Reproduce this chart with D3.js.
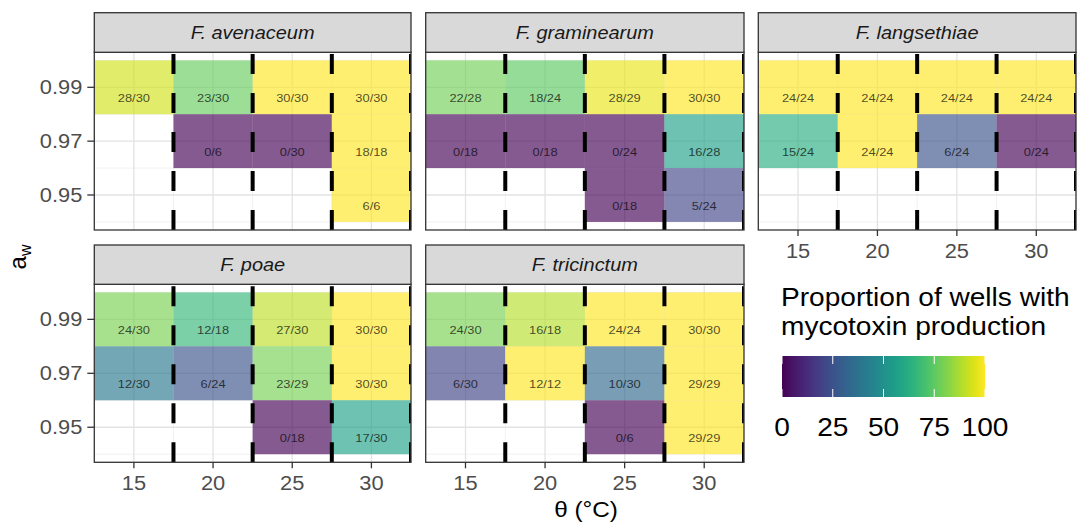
<!DOCTYPE html>
<html><head><meta charset="utf-8">
<script src="https://cdn.jsdelivr.net/npm/d3@7"></script>
<style>
body{margin:0;background:#fff}
svg{display:block}
text{font-family:"Liberation Sans",Arial,Helvetica,sans-serif}
</style>
</head><body>
<svg id="chart" width="1081" height="524"></svg>
<script>
// ---------------- data ----------------
const speciesNames = ["F. avenaceum","F. graminearum","F. langsethiae","F. poae","F. tricinctum"];
const temperatures = [15, 20, 25, 30];
const waterActivity = [0.99, 0.97, 0.95];
// wells with mycotoxin production; rows = aw (0.99, 0.97, 0.95), columns = temperature; null = not tested
const wellsPositive = [
  [[28, 23, 30, 30], [null, 0, 0, 18], [null, null, null, 6]],
  [[22, 18, 28, 30], [0, 0, 0, 16], [null, null, 0, 5]],
  [[24, 24, 24, 24], [15, 24, 6, 0], [null, null, null, null]],
  [[24, 12, 27, 30], [12, 6, 23, 30], [null, null, 0, 17]],
  [[24, 16, 24, 30], [6, 12, 10, 29], [null, null, 0, 29]]
];
const wellsTotal = [
  [[30, 30, 30, 30], [null, 6, 30, 18], [null, null, null, 6]],
  [[28, 24, 29, 30], [18, 18, 24, 28], [null, null, 18, 24]],
  [[24, 24, 24, 24], [24, 24, 24, 24], [null, null, null, null]],
  [[30, 18, 30, 30], [30, 24, 29, 30], [null, null, 18, 30]],
  [[30, 18, 24, 30], [30, 12, 30, 29], [null, null, 6, 29]]
];
const xTicks = [15, 20, 25, 30];
const yTicks = [0.95, 0.97, 0.99];
const yMinor = [0.94, 0.96, 0.98, 1.00];
const xMinor = [12.5, 17.5, 22.5, 27.5, 32.5];
const dividers = [17.5, 22.5, 27.5, 32.5];
const legendBreaks = [0, 25, 50, 75, 100];
const xDomain = [12.5, 32.5];
const yDomain = [0.937, 1.003];

// ---------------- layout ----------------
const SX = 1.12; // horizontal text stretch of the reference
const cols = [[94.3, 411], [425.7, 744], [758.3, 1076]];
const rows = [{stripTop: 12.7, top: 52.3, bottom: 230}, {stripTop: 245, top: 284.3, bottom: 462.3}];
const svg = d3.select("#chart");
const defs = svg.append("defs");
const color = d3.scaleSequential(d3.interpolateViridis).domain([0, 100]);

function txt(g, x, y, s, opts) {
  const t = g.append("text")
    .attr("transform", `translate(${x},${y}) scale(${opts.sx || SX},1)`)
    .attr("text-anchor", opts.anchor || "middle")
    .attr("font-size", opts.size)
    .attr("fill", opts.fill || "#000")
    .text(s);
  if (opts.italic) t.attr("font-style", "italic");
  if (opts.opacity != null) t.attr("fill-opacity", opts.opacity);
  if (opts.baseline) t.attr("dominant-baseline", opts.baseline);
  return t;
}

speciesNames.forEach((name, i) => {
  const r = rows[Math.floor(i / 3)], c = cols[i % 3];
  const x = d3.scaleLinear().domain(xDomain).range(c);
  const y = d3.scaleLinear().domain(yDomain).range([r.bottom, r.top]);
  const g = svg.append("g");
  const clipId = "clip" + i;
  defs.append("clipPath").attr("id", clipId).append("rect")
    .attr("x", c[0]).attr("y", r.top).attr("width", c[1] - c[0]).attr("height", r.bottom - r.top);

  const pg = g.append("g").attr("clip-path", `url(#${clipId})`);
  // grid
  pg.selectAll(".xm").data(xMinor).join("line")
    .attr("x1", d => x(d)).attr("x2", d => x(d)).attr("y1", r.top).attr("y2", r.bottom)
    .attr("stroke", "#ebebeb").attr("stroke-width", 0.7);
  pg.selectAll(".ym").data(yMinor).join("line")
    .attr("y1", d => y(d)).attr("y2", d => y(d)).attr("x1", c[0]).attr("x2", c[1])
    .attr("stroke", "#ebebeb").attr("stroke-width", 0.7);
  pg.selectAll(".xg").data(xTicks).join("line")
    .attr("x1", d => x(d)).attr("x2", d => x(d)).attr("y1", r.top).attr("y2", r.bottom)
    .attr("stroke", "#e3e3e3").attr("stroke-width", 1.3);
  pg.selectAll(".yg").data(yTicks).join("line")
    .attr("y1", d => y(d)).attr("y2", d => y(d)).attr("x1", c[0]).attr("x2", c[1])
    .attr("stroke", "#e3e3e3").attr("stroke-width", 1.3);

  // cells
  const cells = [];
  waterActivity.forEach((aw, ri) => temperatures.forEach((t, ci) => {
    const tot = wellsTotal[i][ri][ci];
    if (tot != null) cells.push({aw, t, pos: wellsPositive[i][ri][ci], tot});
  }));
  pg.selectAll(".tile").data(cells).join("rect")
    .attr("x", d => x(d.t - 2.5)).attr("width", d => x(d.t + 2.5) - x(d.t - 2.5))
    .attr("y", d => y(d.aw + 0.01)).attr("height", d => y(d.aw - 0.01) - y(d.aw + 0.01))
    .attr("fill", d => color(100 * d.pos / d.tot)).attr("fill-opacity", 0.65);
  cells.forEach(d => {
    txt(pg, x(d.t), y(d.aw - 0.004), `${d.pos}/${d.tot}`, {size: 11.5, fill: "#000", opacity: 0.7, baseline: "central"});
  });
  // dashed dividers (drawn bottom to top)
  pg.selectAll(".div").data(dividers).join("line")
    .attr("x1", d => x(d)).attr("x2", d => x(d)).attr("y1", r.bottom).attr("y2", r.top)
    .attr("stroke", "#000").attr("stroke-width", 4).attr("stroke-dasharray", "20,19");

  // border
  g.append("rect").attr("x", c[0]).attr("y", r.top).attr("width", c[1] - c[0]).attr("height", r.bottom - r.top)
    .attr("fill", "none").attr("stroke", "#333").attr("stroke-width", 1.3);
  // strip
  g.append("rect").attr("x", c[0]).attr("y", r.stripTop).attr("width", c[1] - c[0]).attr("height", r.top - r.stripTop)
    .attr("fill", "#d9d9d9").attr("stroke", "#333").attr("stroke-width", 1.3);
  txt(g, (c[0] + c[1]) / 2, (r.stripTop + r.top) / 2, name, {size: 19, fill: "#1a1a1a", italic: true, baseline: "central", sx: 1.05});

  // y axis on first column
  if (i % 3 === 0) {
    g.selectAll(".yt").data(yTicks).join("line")
      .attr("x1", c[0] - 7).attr("x2", c[0]).attr("y1", d => y(d)).attr("y2", d => y(d))
      .attr("stroke", "#333").attr("stroke-width", 1.3);
    yTicks.forEach(v => txt(g, c[0] - 12, y(v), d3.format(".2f")(v), {size: 19.5, fill: "#4d4d4d", anchor: "end", baseline: "central"}));
  }
  // x axis where no panel below
  if (i >= 2) {
    g.selectAll(".xt").data(xTicks).join("line")
      .attr("x1", d => x(d)).attr("x2", d => x(d)).attr("y1", r.bottom).attr("y2", r.bottom + 6)
      .attr("stroke", "#333").attr("stroke-width", 1.3);
    xTicks.forEach(v => txt(g, x(v), r.bottom + 27.5, String(v), {size: 19.5, fill: "#4d4d4d"}));
  }
});

// axis titles
const yt = svg.append("text")
  .attr("transform", "translate(26,257) rotate(-90)")
  .attr("text-anchor", "middle").attr("font-size", 24).attr("fill", "#000");
yt.append("tspan").text("a");
yt.append("tspan").attr("font-size", 16).attr("dy", 5).text("w");
txt(svg, 586, 517, "θ (°C)", {size: 22.5, sx: 1.08});

// legend
const lg = svg.append("g");
txt(lg, 781, 306, "Proportion of wells with", {size: 26, anchor: "start", sx: 1.08});
txt(lg, 781, 335, "mycotoxin production", {size: 26, anchor: "start", sx: 1.08});
const lx = d3.scaleLinear().domain([0, 100]).range([782, 985]);
const grad = defs.append("linearGradient").attr("id", "vgrad");
d3.range(0, 101, 5).forEach(v => grad.append("stop").attr("offset", v + "%").attr("stop-color", color(v)));
const barTop = 356, barBot = 397;
lg.append("rect").attr("x", lx(0)).attr("y", barTop).attr("width", lx(100) - lx(0)).attr("height", barBot - barTop)
  .attr("fill", "url(#vgrad)");
lg.selectAll(".lt1").data(legendBreaks).join("line")
  .attr("x1", d => lx(d)).attr("x2", d => lx(d)).attr("y1", barTop).attr("y2", barTop + 8)
  .attr("stroke", "#fff").attr("stroke-width", 1);
lg.selectAll(".lt2").data(legendBreaks).join("line")
  .attr("x1", d => lx(d)).attr("x2", d => lx(d)).attr("y1", barBot - 8).attr("y2", barBot)
  .attr("stroke", "#fff").attr("stroke-width", 1);
legendBreaks.forEach(v => txt(lg, lx(v), 436, String(v), {size: 26, sx: 1.08}));
</script>
</body></html>
